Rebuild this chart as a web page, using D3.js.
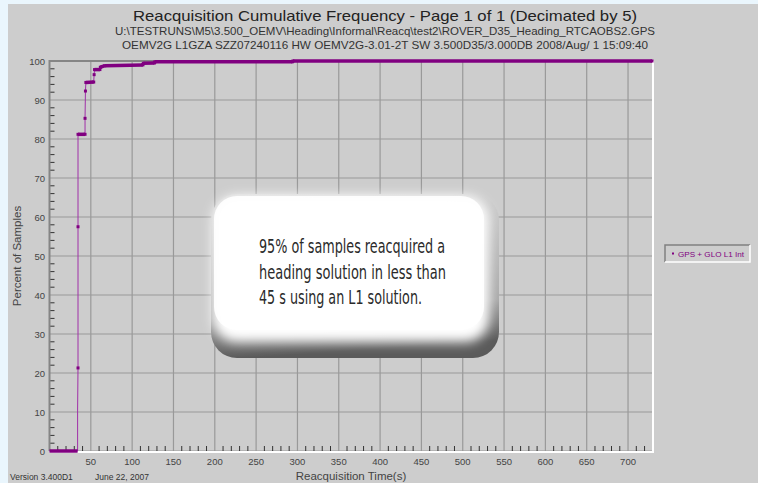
<!DOCTYPE html>
<html>
<head>
<meta charset="utf-8">
<script src="https://cdn.jsdelivr.net/npm/d3@7"></script>
<style>
  html, body { margin: 0; padding: 0; background: #eaf6fd; }
  svg { display: block; }
</style>
</head>
<body>
<svg id="chart" width="758" height="483"></svg>
<script>
// cumulative frequency points (decimated)
const reacqTime  = [0, 34, 34, 34.5, 34.5, 34.5, 43, 43, 43.5, 44, 53.5, 54, 54.5, 61, 61.5, 67, 113, 113.5, 127, 127.5, 294, 294.5, 729];
const cumPercent = [0, 0, 10.5, 21.3, 57.5, 81.2, 81.2, 85.3, 92.3, 94.5, 94.6, 96.5, 97.8, 97.8, 98.4, 98.8, 99.0, 99.4, 99.5, 99.8, 99.8, 100, 100];

const xTicks = [50, 100, 150, 200, 250, 300, 350, 400, 450, 500, 550, 600, 650, 700];
const yTicks = [0, 10, 20, 30, 40, 50, 60, 70, 80, 90, 100];

const titleLines = [
  'Reacquisition Cumulative Frequency - Page 1 of 1 (Decimated by 5)',
  'U:\\TESTRUNS\\M5\\3.500_OEMV\\Heading\\Informal\\Reacq\\test2\\ROVER_D35_Heading_RTCAOBS2.GPS',
  'OEMV2G L1GZA SZZ07240116 HW OEMV2G-3.01-2T SW 3.500D35/3.000DB 2008/Aug/ 1 15:09:40'
];
const calloutLines = [
  '95% of samples reacquired a',
  'heading solution in less than',
  '45 s using an L1 solution.'
];
const seriesName = 'GPS + GLO L1 Int';

const PURPLE = '#800080';
const FONT = 'Liberation Sans, Arial, sans-serif';

const svg = d3.select('#chart');
const plot = { left: 49.5, right: 652, top: 61, bottom: 451 };

const x = d3.scaleLinear().domain([0, 729]).range([plot.left, plot.right]);
const y = d3.scaleLinear().domain([0, 100]).range([plot.bottom, plot.top]);

// grey panel
svg.append('rect').attr('x', 8).attr('y', 4).attr('width', 750).attr('height', 479).attr('fill', '#cdcdcd');

// titles
const titleSizes = [15, 11, 11];
const titleBase = [21, 35, 49];
const titleWidth = [504, 540, 526];
titleLines.forEach((t, i) => {
  svg.append('text')
    .attr('x', 385).attr('y', titleBase[i])
    .attr('text-anchor', 'middle')
    .attr('font-family', FONT)
    .attr('font-size', titleSizes[i])
    .attr('fill', i === 0 ? '#222' : '#333')
    .attr('textLength', titleWidth[i])
    .attr('lengthAdjust', 'spacingAndGlyphs')
    .text(t);
});

const g = svg.append('g');

// gridlines
g.selectAll('.vgrid').data(xTicks).enter().append('line')
  .attr('x1', d => x(d)).attr('x2', d => x(d))
  .attr('y1', plot.top).attr('y2', plot.bottom)
  .attr('stroke', '#999').attr('stroke-width', 1.2);
g.selectAll('.hgrid').data(yTicks).enter().append('line')
  .attr('x1', plot.left).attr('x2', plot.right)
  .attr('y1', d => y(d)).attr('y2', d => y(d))
  .attr('stroke', '#999').attr('stroke-width', 1.2);

// minor ticks
const yMinor = d3.range(0, 100, 2).filter(v => v % 10 !== 0);
g.selectAll('.ymin').data(yMinor).enter().append('line')
  .attr('x1', plot.left).attr('x2', plot.left + 5)
  .attr('y1', d => y(d)).attr('y2', d => y(d))
  .attr('stroke', '#333').attr('stroke-width', 1);
const xMinor = d3.range(10, 729, 10).filter(v => v % 50 !== 0);
g.selectAll('.xmin').data(xMinor).enter().append('line')
  .attr('x1', d => x(d)).attr('x2', d => x(d))
  .attr('y1', plot.bottom - 5).attr('y2', plot.bottom)
  .attr('stroke', '#333').attr('stroke-width', 1);

// inset frame: dark top/left, white bottom/right
g.append('path')
  .attr('d', `M${plot.left},${plot.bottom} V${plot.top} H${plot.right}`)
  .attr('fill', 'none').attr('stroke', '#858585').attr('stroke-width', 2);
g.append('path')
  .attr('d', `M${plot.left},${plot.bottom + 1} H${plot.right + 1} V${plot.top}`)
  .attr('fill', 'none').attr('stroke', '#fff').attr('stroke-width', 2);

// tick labels
svg.selectAll('.xl').data(xTicks).enter().append('text')
  .attr('x', d => x(d)).attr('y', 465)
  .attr('text-anchor', 'middle')
  .attr('font-family', FONT).attr('font-size', 9.5).attr('fill', '#444')
  .text(d => d);
svg.selectAll('.yl').data(yTicks).enter().append('text')
  .attr('x', 45).attr('y', d => y(d) + 3.5)
  .attr('text-anchor', 'end')
  .attr('font-family', FONT).attr('font-size', 9.5).attr('fill', '#444')
  .text(d => d);

// axis titles
svg.append('text')
  .attr('x', 351).attr('y', 480)
  .attr('text-anchor', 'middle')
  .attr('font-family', FONT).attr('font-size', 11.5).attr('fill', '#444')
  .text('Reacquisition Time(s)');
svg.append('text')
  .attr('transform', 'translate(21,256) rotate(-90)')
  .attr('text-anchor', 'middle')
  .attr('font-family', FONT).attr('font-size', 11.5).attr('fill', '#444')
  .text('Percent of Samples');

// footer
svg.append('text').attr('x', 10).attr('y', 480)
  .attr('font-family', FONT).attr('font-size', 8.5).attr('fill', '#333')
  .text('Version 3.400D1');
svg.append('text').attr('x', 95).attr('y', 480)
  .attr('font-family', FONT).attr('font-size', 8.5).attr('fill', '#333')
  .text('June 22, 2007');

// series
const pts = reacqTime.map((t, i) => ({ t, p: cumPercent[i] }));
const line = d3.line().x(d => x(d.t)).y(d => y(d.p));
g.append('path').datum(pts)
  .attr('d', line)
  .attr('fill', 'none').attr('stroke', '#a030a8').attr('stroke-width', 1);

// plateaus are dense with points, so they show as a thick line
const plateaus = d3.pairs(pts).filter(([a, b]) => b.t > a.t && Math.abs(b.p - a.p) < 0.5);
g.selectAll('.plateau').data(plateaus).enter().append('line')
  .attr('x1', d => x(d[0].t)).attr('x2', d => x(d[1].t))
  .attr('y1', d => y(d[0].p)).attr('y2', d => y(d[1].p))
  .attr('stroke', PURPLE).attr('stroke-width', 3.5);

g.selectAll('.pt').data(pts.filter(d => d.p > 15)).enter().append('rect')
  .attr('x', d => x(d.t) - 1.5).attr('y', d => y(d.p) - 1.5)
  .attr('width', 3).attr('height', 3)
  .attr('fill', PURPLE);

// callout box: soft pillow with shading along bottom and right
const defs = svg.append('defs');
const blur = defs.append('filter').attr('id', 'soft').attr('x', '-10%').attr('y', '-10%').attr('width', '120%').attr('height', '130%');
blur.append('feGaussianBlur').attr('stdDeviation', 6);
const grad = defs.append('linearGradient').attr('id', 'shade').attr('x1', 0).attr('y1', 0).attr('x2', 0.12).attr('y2', 1);
grad.append('stop').attr('offset', '0%').attr('stop-color', '#d4d4d4');
grad.append('stop').attr('offset', '75%').attr('stop-color', '#a8a8a8');
grad.append('stop').attr('offset', '100%').attr('stop-color', '#5a5a5a');

const box = { x: 211, y: 194, w: 288, h: 164, r: 26 };
svg.append('rect')
  .attr('x', box.x).attr('y', box.y).attr('width', box.w).attr('height', box.h)
  .attr('rx', box.r).attr('fill', 'url(#shade)');
svg.append('rect')
  .attr('x', box.x + 2).attr('y', box.y + 2).attr('width', box.w - 12).attr('height', box.h - 18)
  .attr('rx', box.r - 2).attr('fill', '#fff').attr('filter', 'url(#soft)');
svg.append('rect')
  .attr('x', box.x + 3).attr('y', box.y + 2).attr('width', box.w - 18).attr('height', box.h - 30)
  .attr('rx', box.r - 3).attr('fill', '#fff').attr('opacity', 0.9);

const calloutBase = [253, 279, 304];
const calloutWidth = [186, 187, 163];
calloutLines.forEach((t, i) => {
  svg.append('text')
    .attr('x', 259).attr('y', calloutBase[i])
    .attr('font-family', 'Liberation Sans Narrow, DejaVu Sans Condensed, sans-serif')
    .attr('font-size', 19).attr('fill', '#2a2a2a')
    .attr('textLength', calloutWidth[i])
    .attr('lengthAdjust', 'spacingAndGlyphs')
    .text(t);
});

// legend
const lg = svg.append('g').attr('transform', 'translate(665,245)');
lg.append('rect').attr('width', 85).attr('height', 17).attr('fill', '#cdcdcd');
lg.append('path').attr('d', 'M0,17 V0 H85').attr('fill', 'none').attr('stroke', '#808080').attr('stroke-width', 1.5);
lg.append('path').attr('d', 'M0,17 H85 V0').attr('fill', 'none').attr('stroke', '#fff').attr('stroke-width', 1.5);
lg.append('rect').attr('x', 7).attr('y', 7.5).attr('width', 2).attr('height', 2).attr('fill', PURPLE);
lg.append('text').attr('x', 13).attr('y', 11.5)
  .attr('font-family', FONT).attr('font-size', 8).attr('fill', PURPLE)
  .attr('textLength', 66).attr('lengthAdjust', 'spacingAndGlyphs')
  .text(seriesName);
</script>
</body>
</html>
